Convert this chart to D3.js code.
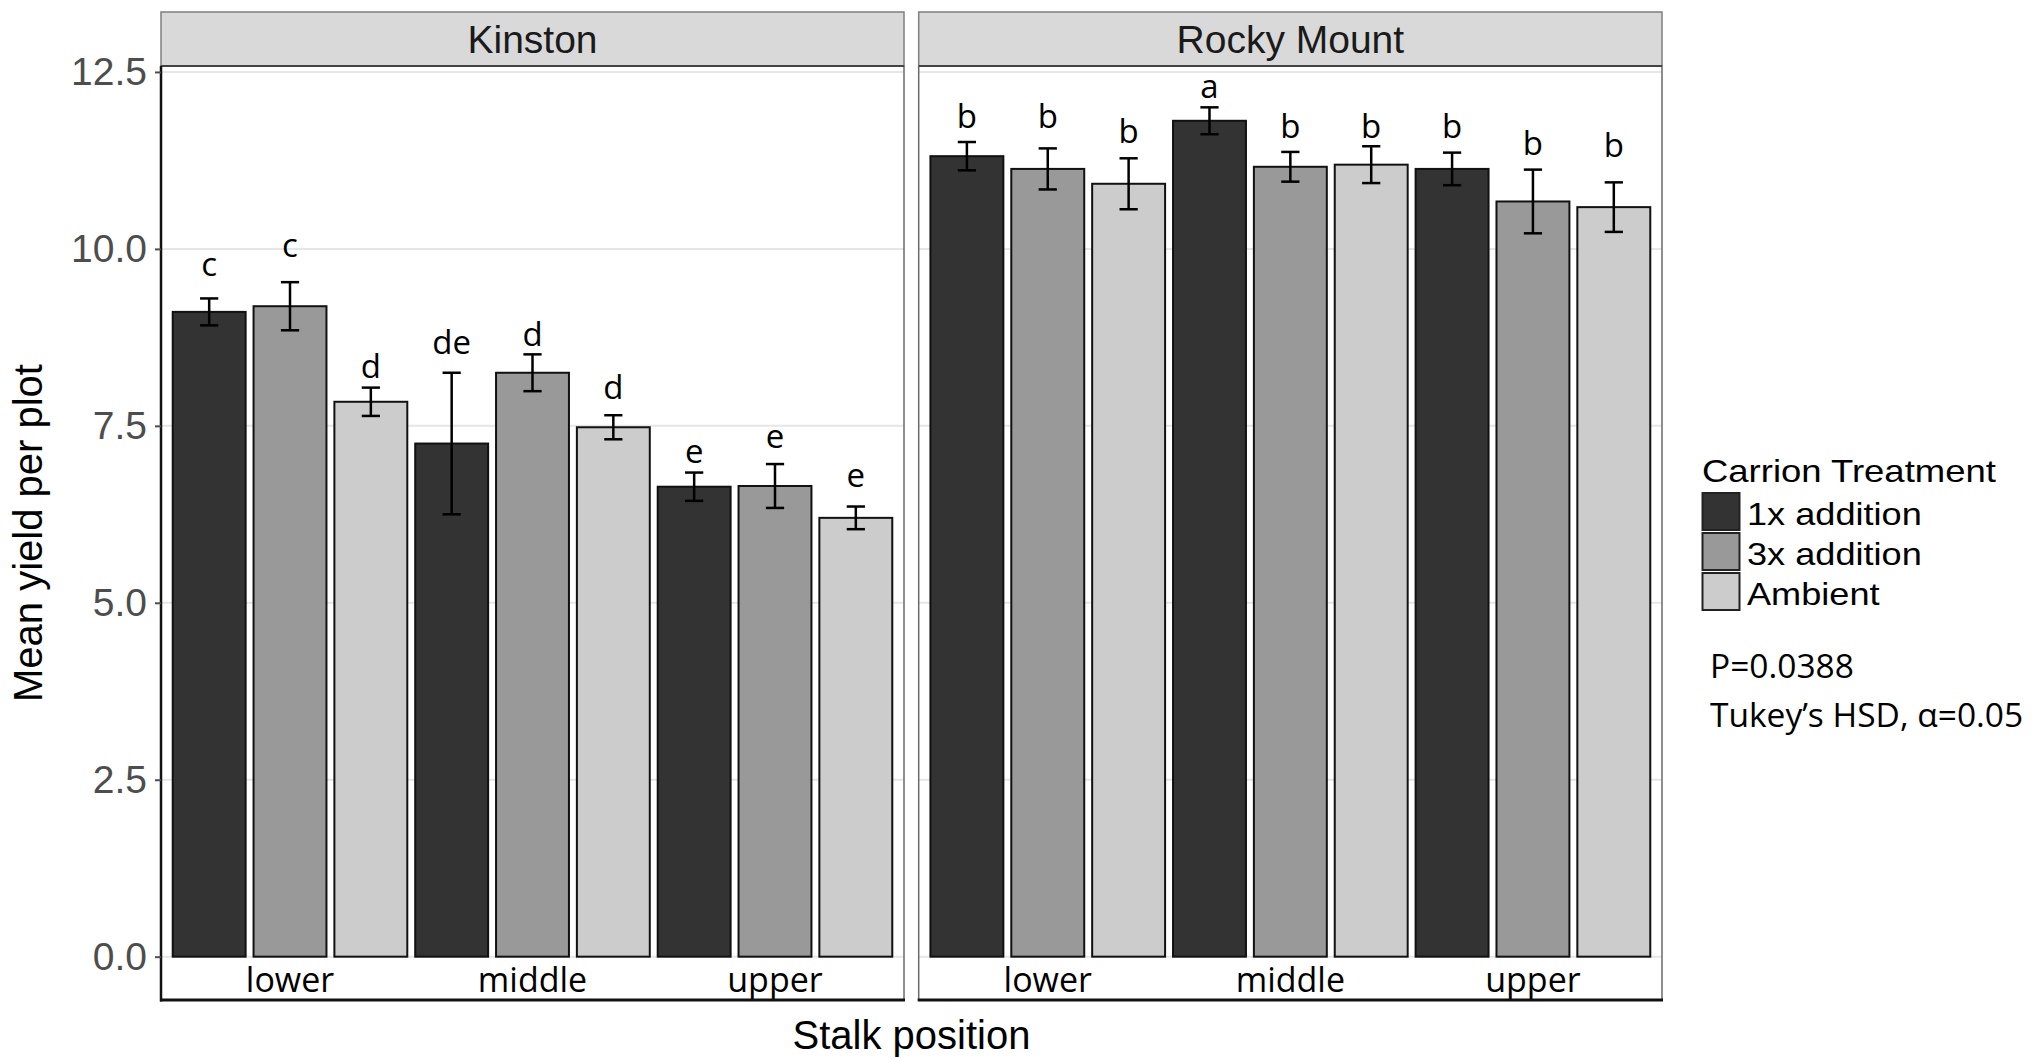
<!DOCTYPE html>
<html>
<head>
<meta charset="utf-8">
<script src="https://cdn.jsdelivr.net/npm/d3@7"></script>
<style>
  html, body { margin: 0; padding: 0; background: #ffffff; }
  svg { display: block; }
</style>
</head>
<body>
<div id="chart"></div>
<script>
// Mean yield per plot by stalk position and carrion treatment, two sites.
const sites = ["Kinston", "Rocky Mount"];
const positions = ["lower", "middle", "upper"];
const treatments = ["1x addition", "3x addition", "Ambient"];
const treatmentFills = ["#333333", "#999999", "#cccccc"];

// Values ordered lower(1x,3x,Amb), middle(1x,3x,Amb), upper(1x,3x,Amb)
const kinstonMeans = [9.11, 9.19, 7.84, 7.25, 8.25, 7.48, 6.64, 6.65, 6.20];
const kinstonErr   = [0.19, 0.34, 0.20, 1.00, 0.26, 0.17, 0.20, 0.31, 0.16];
const rockyMeans   = [11.31, 11.13, 10.92, 11.81, 11.16, 11.19, 11.13, 10.67, 10.59];
const rockyErr     = [0.20, 0.29, 0.36, 0.19, 0.21, 0.26, 0.23, 0.45, 0.35];

// Tukey group letters and the height (in yield units) each one sits at
const kinstonLetters = ["c", "c", "d", "de", "d", "d", "e", "e", "e"];
const kinstonLetterAt = [9.62, 9.88, 8.18, 8.51, 8.63, 7.88, 6.97, 7.18, 6.63];
const rockyLetters = ["b", "b", "b", "a", "b", "b", "b", "b", "b"];
const rockyLetterAt = [11.71, 11.71, 11.50, 12.13, 11.56, 11.56, 11.56, 11.32, 11.30];

const yTicks = [0, 2.5, 5, 7.5, 10, 12.5];
const statLines = ["P=0.0388", "Tukey\u2019s HSD, \u03b1=0.05"];

const W = 2042, H = 1059;
const ggFont = "'Liberation Sans', Arial, sans-serif";
const noteFont = "'Open Sans', 'Noto Sans', sans-serif";

const svg = d3.select("#chart").append("svg")
  .attr("width", W).attr("height", H)
  .attr("viewBox", `0 0 ${W} ${H}`);

const stripTop = 12, panelTop = 66, panelBottom = 1000;
const panelBoxes = [
  { site: sites[0], x0: 161, x1: 904, means: kinstonMeans, err: kinstonErr,
    letters: kinstonLetters, letterAt: kinstonLetterAt },
  { site: sites[1], x0: 918.7, x1: 1662, means: rockyMeans, err: rockyErr,
    letters: rockyLetters, letterAt: rockyLetterAt }
];

const y = d3.scaleLinear().domain([-0.612, 12.584]).range([panelBottom, panelTop]);
const fill = d3.scaleOrdinal().domain(treatments).range(treatmentFills);

const keys = [];
positions.forEach(p => treatments.forEach(t => keys.push(p + "|" + t)));

panelBoxes.forEach((pb, pi) => {
  const x = d3.scaleBand().domain(keys).range([pb.x0, pb.x1])
    .paddingInner(0.098).paddingOuter(0.145);
  const bw = x.bandwidth();
  const rows = keys.map((k, i) => ({
    key: k, pos: k.split("|")[0], trt: k.split("|")[1],
    mean: pb.means[i], err: pb.err[i], letter: pb.letters[i], letterAt: pb.letterAt[i]
  }));

  const g = svg.append("g");

  // panel background and grid
  g.append("rect").attr("x", pb.x0).attr("y", panelTop)
    .attr("width", pb.x1 - pb.x0).attr("height", panelBottom - panelTop)
    .attr("fill", "#ffffff");
  g.selectAll("line.grid").data(yTicks).join("line")
    .attr("class", "grid")
    .attr("x1", pb.x0).attr("x2", pb.x1)
    .attr("y1", d => y(d)).attr("y2", d => y(d))
    .attr("stroke", "#e6e6e6").attr("stroke-width", 2);

  // bars
  g.selectAll("rect.bar").data(rows).join("rect")
    .attr("class", "bar")
    .attr("x", d => x(d.key))
    .attr("width", bw)
    .attr("y", d => y(d.mean))
    .attr("height", d => y(0) - y(d.mean))
    .attr("fill", d => fill(d.trt))
    .attr("stroke", "#111111").attr("stroke-width", 2);

  // error bars
  const cap = bw * 0.25;
  const eb = g.selectAll("g.err").data(rows).join("g").attr("class", "err")
    .attr("stroke", "#000000").attr("stroke-width", 2.5);
  eb.append("line")
    .attr("x1", d => x(d.key) + bw / 2).attr("x2", d => x(d.key) + bw / 2)
    .attr("y1", d => y(d.mean + d.err)).attr("y2", d => y(d.mean - d.err));
  eb.append("line")
    .attr("x1", d => x(d.key) + bw / 2 - cap / 2).attr("x2", d => x(d.key) + bw / 2 + cap / 2)
    .attr("y1", d => y(d.mean + d.err)).attr("y2", d => y(d.mean + d.err));
  eb.append("line")
    .attr("x1", d => x(d.key) + bw / 2 - cap / 2).attr("x2", d => x(d.key) + bw / 2 + cap / 2)
    .attr("y1", d => y(d.mean - d.err)).attr("y2", d => y(d.mean - d.err));

  // group letters
  g.selectAll("text.letter").data(rows).join("text")
    .attr("class", "letter")
    .attr("x", d => x(d.key) + bw / 2)
    .attr("y", d => y(d.letterAt))
    .attr("text-anchor", "middle")
    .attr("font-family", noteFont).attr("font-size", 33)
    .attr("fill", "#000000")
    .text(d => d.letter);

  // stalk position labels under the middle bar of each group
  g.selectAll("text.pos").data(positions).join("text")
    .attr("class", "pos")
    .attr("x", p => x(p + "|" + treatments[1]) + bw / 2)
    .attr("y", 992)
    .attr("text-anchor", "middle")
    .attr("font-family", noteFont).attr("font-size", 34)
    .attr("fill", "#000000")
    .text(p => p);

  // panel border and axis lines
  g.append("rect").attr("x", pb.x0).attr("y", panelTop)
    .attr("width", pb.x1 - pb.x0).attr("height", panelBottom - panelTop)
    .attr("fill", "none").attr("stroke", "#6a6a6a").attr("stroke-width", 1.5);
  g.append("line").attr("x1", pb.x0 - 1).attr("x2", pb.x1 + 1)
    .attr("y1", panelBottom).attr("y2", panelBottom)
    .attr("stroke", "#111111").attr("stroke-width", 3);

  // strip
  g.append("rect").attr("x", pb.x0).attr("y", stripTop)
    .attr("width", pb.x1 - pb.x0).attr("height", panelTop - stripTop)
    .attr("fill", "#d9d9d9").attr("stroke", "#7f7f7f").attr("stroke-width", 1.5);
  g.append("line").attr("x1", pb.x0).attr("x2", pb.x1)
    .attr("y1", panelTop).attr("y2", panelTop)
    .attr("stroke", "#444444").attr("stroke-width", 2);
  g.append("text")
    .attr("x", (pb.x0 + pb.x1) / 2).attr("y", 53)
    .attr("text-anchor", "middle")
    .attr("font-family", ggFont).attr("font-size", 39)
    .attr("fill", "#1a1a1a")
    .text(pb.site);

  // y axis on the first panel only
  if (pi === 0) {
    const axis = d3.axisLeft(y).tickValues(yTicks).tickFormat(d3.format(".1f"))
      .tickSize(6).tickPadding(8);
    const ag = svg.append("g").attr("transform", `translate(${pb.x0},0)`).call(axis);
    ag.select(".domain").attr("stroke", "#111111").attr("stroke-width", 2.5)
      .attr("d", `M0,${panelTop}V${panelBottom + 1.5}`);
    ag.selectAll(".tick line").attr("stroke", "#4d4d4d").attr("stroke-width", 2);
    ag.selectAll(".tick text")
      .attr("font-family", ggFont).attr("font-size", 39)
      .attr("fill", "#4d4d4d");
  }
});

// axis titles
svg.append("text")
  .attr("transform", `translate(41.5,${(panelTop + panelBottom) / 2}) rotate(-90)`)
  .attr("text-anchor", "middle")
  .attr("font-family", ggFont).attr("font-size", 40)
  .attr("fill", "#000000")
  .text("Mean yield per plot");

svg.append("text")
  .attr("x", (panelBoxes[0].x0 + panelBoxes[1].x1) / 2).attr("y", 1049)
  .attr("text-anchor", "middle")
  .attr("font-family", ggFont).attr("font-size", 40)
  .attr("fill", "#000000")
  .text("Stalk position");

// legend
const lg = svg.append("g").attr("transform", "translate(1702,0)");
lg.append("text")
  .attr("transform", "translate(0,482) scale(1.14,1)")
  .attr("font-family", ggFont).attr("font-size", 32)
  .attr("fill", "#000000")
  .text("Carrion Treatment");
const items = lg.selectAll("g.item").data(treatments).join("g")
  .attr("class", "item")
  .attr("transform", (d, i) => `translate(0,${493 + i * 40})`);
items.append("rect")
  .attr("x", 0.5).attr("y", 0).attr("width", 37).attr("height", 37)
  .attr("fill", d => fill(d)).attr("stroke", "#222222").attr("stroke-width", 2);
items.append("text")
  .attr("transform", "translate(45,32) scale(1.13,1)")
  .attr("font-family", ggFont).attr("font-size", 32)
  .attr("fill", "#000000")
  .text(d => d);

// test statistics note
svg.selectAll("text.stat").data(statLines).join("text")
  .attr("class", "stat")
  .attr("x", 1710)
  .attr("y", (d, i) => 678 + i * 49)
  .attr("font-family", noteFont).attr("font-size", 33.5)
  .attr("fill", "#000000")
  .text(d => d);
</script>
</body>
</html>
